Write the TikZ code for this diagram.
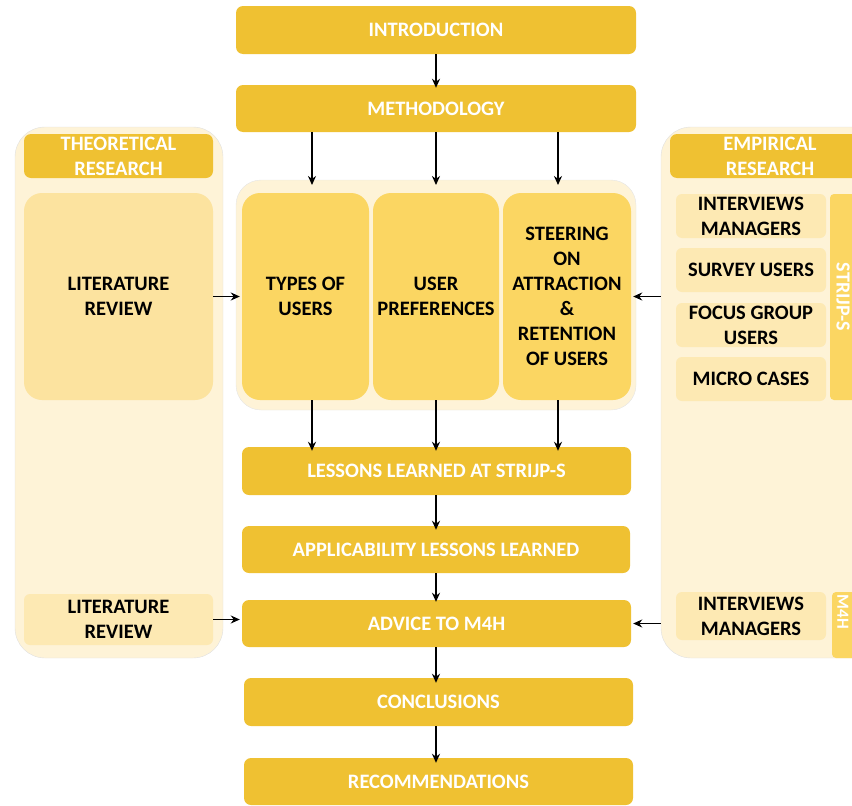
\documentclass[tikz,border=0pt]{standalone}
\usepackage{fontspec}
\setmainfont{Carlito}
\usetikzlibrary{arrows.meta,calc}
\definecolor{gold}{HTML}{EFC132}
\definecolor{mid}{HTML}{FBD662}
\definecolor{lite}{HTML}{FCE39F}
\definecolor{pale}{HTML}{FDE9B3}
\definecolor{panel}{HTML}{FEF3D7}
\tikzset{
  x=1pt,y=-1pt,
  txt/.style={font=\fontsize{20.5}{25}\selectfont\bfseries,align=center,inner sep=0pt},
  hdr/.style={txt,fill=gold,rounded corners=7pt,text=white},
  midbox/.style={txt,fill=mid,rounded corners=18pt},
  litebox/.style={txt,fill=lite,rounded corners=18pt},
  palebox/.style={txt,fill=pale,rounded corners=6pt},
  strip/.style={fill=mid,text=white,font=\fontsize{20}{22}\selectfont\bfseries,inner sep=0pt},
  arr/.style={line width=1.6pt,-{Stealth[length=9pt,width=8pt]}},
}
\begin{document}
\begin{tikzpicture}
\useasboundingbox (0,0) rectangle (852,806);
\clip (0,0) rectangle (852,806);
% panels
\draw[fill=panel,draw=black!12,rounded corners=30pt] (15,127) rectangle (223,658);
\draw[fill=panel,draw=black!12,rounded corners=30pt] (661,127) rectangle (900,658);
\draw[fill=panel,draw=black!10,rounded corners=25pt] (236,180) rectangle (636,410);
% main column
\node[hdr,minimum width=400pt,minimum height=48pt] (intro) at (436,30) {INTRODUCTION};
\node[hdr,minimum width=400pt,minimum height=47pt] (meth) at (436,108.5) {METHODOLOGY};
\coordinate (cont) at (436,180);
\node[midbox,minimum width=127pt,minimum height=207pt] (types) at (305.5,296.5) {TYPES OF\\USERS};
\node[midbox,minimum width=126pt,minimum height=207pt] (pref) at (436,296.5) {USER\\PREFERENCES};
\node[midbox,minimum width=128pt,minimum height=207pt] (steer) at (567,296.5) {STEERING\\ON\\ATTRACTION\\\&\\RETENTION\\OF USERS};
\node[hdr,minimum width=389pt,minimum height=48pt] (less) at (436.5,471) {LESSONS LEARNED AT STRIJP-S};
\node[hdr,minimum width=388pt,minimum height=47pt] (appl) at (436,549.5) {APPLICABILITY LESSONS LEARNED};
\node[hdr,minimum width=389pt,minimum height=47pt] (adv) at (436.5,623.5) {ADVICE TO M4H};
\node[hdr,minimum width=389pt,minimum height=48pt] (concl) at (438.5,702) {CONCLUSIONS};
\node[hdr,minimum width=389pt,minimum height=47pt] (rec) at (438.5,781.5) {RECOMMENDATIONS};
% left panel
\node[hdr,minimum width=189pt,minimum height=44pt] (theo) at (118.5,156) {THEORETICAL\\RESEARCH};
\node[litebox,minimum width=189pt,minimum height=207pt] (lit1) at (118.5,296.5) {LITERATURE\\REVIEW};
\node[palebox,minimum width=189pt,minimum height=51pt] (lit2) at (118.5,619.5) {LITERATURE\\REVIEW};
% right panel
\node[hdr,minimum width=200pt,minimum height=44pt,text width=182pt] (emp) at (770,156) {EMPIRICAL\\RESEARCH};
\node[palebox,minimum width=150pt,minimum height=44pt] (int1) at (751,216) {INTERVIEWS\\MANAGERS};
\node[palebox,minimum width=150pt,minimum height=44pt] (surv) at (751,270) {SURVEY USERS};
\node[palebox,minimum width=150pt,minimum height=44pt] (focus) at (751,325) {FOCUS GROUP\\USERS};
\node[palebox,minimum width=150pt,minimum height=44pt] (micro) at (751,379) {MICRO CASES};
\node[palebox,minimum width=150pt,minimum height=48pt] (int2) at (751,616) {INTERVIEWS\\MANAGERS};
\fill[mid,rounded corners=4pt] (830,194) rectangle (870,400);
\node[strip,rotate=-90] (strijp) at (843,297) {STRIJP-S};
\fill[mid,rounded corners=4pt] (832,592) rectangle (870,658);
\node[strip,rotate=-90,font=\fontsize{17}{18}\selectfont\bfseries] (m4h) at (843,612) {M4H};
% arrows
\draw[arr] (intro.south) -- ([yshift=-3pt]meth.north);
\draw[arr] ([xshift=6.5pt]meth.south -| types) -- ([xshift=6.5pt,yshift=-5pt]cont -| types);
\draw[arr] (meth.south -| pref) -- ([yshift=-5pt]cont -| pref);
\draw[arr] ([xshift=-9pt]meth.south -| steer) -- ([xshift=-9pt,yshift=-5pt]cont -| steer);
\draw[arr] ([xshift=6.5pt]types.south) -- ([xshift=6.5pt,yshift=-4pt]less.north -| types);
\draw[arr] (pref.south) -- ([yshift=-4pt]less.north -| pref);
\draw[arr] ([xshift=-9pt]steer.south) -- ([xshift=-9pt,yshift=-4pt]less.north -| steer);
\draw[arr] (less.south -| pref) -- ([yshift=-4pt]appl.north -| pref);
\draw[arr] (appl.south -| pref) -- ([yshift=-2pt]adv.north -| pref);
\draw[arr] (adv.south -| pref) -- ([yshift=-5pt]concl.north -| pref);
\draw[arr] (concl.south -| pref) -- ([yshift=-5pt]rec.north -| pref);
\draw[arr] (lit1.east) -- ([xshift=-2pt]types.west);
\draw[arr] (lit2.east) -- ([xshift=-2pt]lit2.east -| adv.west);
\draw[arr] ([xshift=-15pt]int1.west |- steer.east) -- ([xshift=2pt]steer.east);
\draw[arr] ([xshift=-15pt]int1.west |- adv.east) -- ([xshift=2pt]adv.east);
\end{tikzpicture}
\end{document}
